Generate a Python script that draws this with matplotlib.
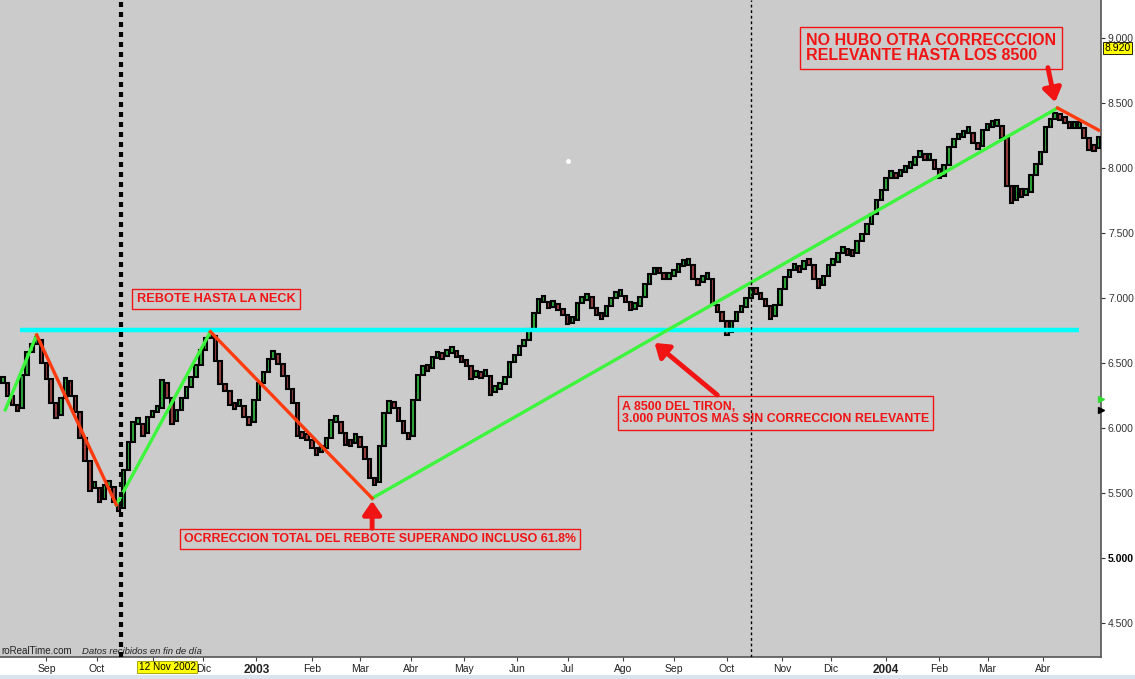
import numpy as np
import pandas as pd
import matplotlib
matplotlib.use("Agg")
import matplotlib.pyplot as plt
from matplotlib.ticker import FixedLocator, FuncFormatter

plt.rcParams['font.family'] = ['Liberation Sans', 'DejaVu Sans']

# daily sessions, one close read every 2 sessions
start_date = '2002-08-07'
n_days = 456
closes = [
    6370, 6270, 6200, 6155, 6410, 6585, 6645, 6700, 6525, 6400,
    6215, 6100, 6230, 6385, 6270, 6145, 5945, 5770, 5540, 5560,
    5455, 5560, 5570, 5455, 5385, 5675, 5890, 6045, 6055, 5960,
    6085, 6125, 6155, 6370, 6255, 6055, 6140, 6230, 6315, 6390,
    6485, 6600, 6690, 6730, 6540, 6360, 6310, 6200, 6170, 6190,
    6110, 6045, 6215, 6345, 6430, 6530, 6590, 6515, 6425, 6325,
    6215, 5960, 5945, 5930, 5870, 5815, 5845, 5925, 6060, 6070,
    5985, 5890, 5885, 5955, 5875, 5785, 5640, 5585, 5860, 6115,
    6210, 6175, 6075, 5985, 5940, 6215, 6410, 6475, 6460, 6545,
    6560, 6555, 6590, 6600, 6570, 6530, 6500, 6400, 6415, 6410,
    6425, 6275, 6300, 6340, 6390, 6510, 6560, 6630, 6675, 6760,
    6885, 6990, 6990, 6945, 6955, 6930, 6890, 6825, 6830, 6960,
    6985, 7030, 6945, 6890, 6860, 6940, 7000, 7030, 7040, 6990,
    6930, 6940, 7010, 7110, 7185, 7225, 7210, 7170, 7170, 7200,
    7260, 7270, 7275, 7170, 7120, 7155, 7170, 6970, 6910, 6845,
    6740, 6825, 6890, 6930, 7000, 7075, 7055, 7015, 6960, 6860,
    6945, 7070, 7160, 7215, 7260, 7225, 7285, 7275, 7170, 7100,
    7170, 7255, 7275, 7345, 7370, 7355, 7345, 7440, 7490, 7570,
    7645, 7755, 7830, 7925, 7975, 7940, 7970, 8010, 8020, 8085,
    8115, 8085, 8085, 8010, 7940, 8020, 8160, 8220, 8240, 8270,
    8290, 8215, 8170, 8290, 8315, 8345, 8345, 8255, 7885, 7755,
    7860, 7800, 7815, 7945, 8030, 8120, 8310, 8375, 8415, 8390,
    8370, 8330, 8330, 8330, 8255, 8160, 8150, 8240,
]

# trend lines drawn on the chart
green_legs = [
    (['2002-08-08', '2002-08-27'], [6140, 6715]),
    (['2002-10-11', '2002-12-05'], [5410, 6740]),
    (['2003-03-10', '2004-04-09'], [5460, 8460]),
]
red_legs = [
    (['2002-08-27', '2002-10-11'], [6715, 5410]),
    (['2002-12-05', '2003-03-10'], [6740, 5460]),
    (['2004-04-09', '2004-05-04'], [8460, 8290]),
]
neck_dates = ['2002-08-16', '2004-04-22']
neck_level = 6755
cursor_dates = ['2002-10-15', '2003-10-15']
cursor_label = '12 Nov 2002'

month_names = ['Ene', 'Feb', 'Mar', 'Abr', 'May', 'Jun', 'Jul', 'Ago',
               'Sep', 'Oct', 'Nov', 'Dic']
price_ticks = [4500, 5000, 5500, 6000, 6500, 7000, 7500, 8000, 8500, 9000]

days = pd.bdate_range(start_date, periods=n_days)


def pos(d):
    return int(np.searchsorted(days, pd.Timestamp(d)))


W, H = 1135, 679
fig = plt.figure(figsize=(W / 100, H / 100), dpi=100)
fig.patch.set_facecolor('white')
ax = fig.add_axes([0, 22 / H, 1101 / W, 1 - 22 / H])
ax.set_facecolor('#cbcbcb')

# candles: open = previous close
x = np.arange(len(closes)) * 2
c = np.array(closes, dtype=float)
o = np.r_[c[0], c[:-1]]
lo = np.minimum(o, c)
hi = np.maximum(o, c)
cols = np.where(c >= o, '#2fa83c', '#9a4040')
ax.bar(x, np.maximum(hi - lo, 45), bottom=np.minimum(lo, c - 22), width=1.45,
       color=cols, edgecolor='black', linewidth=1.5, zorder=3)

ax.plot([pos(d) for d in neck_dates], [neck_level] * 2, color='#00ffff',
        lw=3.2, solid_capstyle='butt', zorder=4)
for ds, vs in green_legs:
    ax.plot([pos(d) for d in ds], vs, color='#3cf53c', lw=2.4, zorder=5)
for ds, vs in red_legs:
    ax.plot([pos(d) for d in ds], vs, color='#ff3c10', lw=2.4, zorder=5)

ax.axvline(pos(cursor_dates[0]), color='black', lw=3, ls=(0, (1.2, 1.2)), zorder=6)
ax.axvline(pos(cursor_dates[1]), color='black', lw=1, ls=(0, (2, 2)), zorder=6)

ax.set_xlim(-1.2, 455)
ax.set_ylim(4240, 9290)

# month ticks (Nov 2002 sits under the yellow cursor date)
tick_pos, tick_lab, bold_idx = [], [], []
for m in pd.date_range('2002-09-01', '2004-04-01', freq='MS'):
    tick_pos.append(pos(m))
    if m.month == 1:
        bold_idx.append(len(tick_lab))
        tick_lab.append(str(m.year))
    elif m == pd.Timestamp('2002-11-01'):
        tick_lab.append('')
    else:
        tick_lab.append(month_names[m.month - 1])
ax.set_xticks(tick_pos)
ax.set_xticklabels(tick_lab, fontsize=7.5, color='#222222')
for i in bold_idx:
    ax.get_xticklabels()[i].set_fontweight('bold')
    ax.get_xticklabels()[i].set_fontsize(8.5)
ax.tick_params(axis='x', length=3, pad=2, color='#444444')

ax.yaxis.tick_right()
ax.yaxis.set_major_locator(FixedLocator(price_ticks))
ax.yaxis.set_major_formatter(FuncFormatter(lambda v, p: f"{v / 1000:.3f}"))
ax.tick_params(axis='y', length=3, pad=2, labelsize=7.5, colors='#333333')
for lab in ax.get_yticklabels():
    if lab.get_text() == '5.000':
        lab.set_fontweight('bold')
        lab.set_color('black')

for s in ['top', 'left']:
    ax.spines[s].set_visible(False)
for s in ['right', 'bottom']:
    ax.spines[s].set_color('#555555')
    ax.spines[s].set_linewidth(1.2)

# yellow labels
ax.text(pos('2002-11-11'), -0.0155, cursor_label, transform=ax.get_xaxis_transform(),
        ha='center', va='center', fontsize=7.2, zorder=10,
        bbox=dict(boxstyle='square,pad=0.12', fc='#ffff00', ec='#999900', lw=0.6))
ax.text(1.003, 8920, '8.920', transform=ax.get_yaxis_transform(), ha='left',
        va='center', fontsize=7.5, zorder=10,
        bbox=dict(boxstyle='square,pad=0.1', fc='#ffff00', ec='black', lw=0.6))
ax.plot([1.0], [6220], marker='>', color='#33dd33', ms=5,
        transform=ax.get_yaxis_transform(), clip_on=False, zorder=10)
ax.plot([1.0], [6140], marker='>', color='black', ms=5,
        transform=ax.get_yaxis_transform(), clip_on=False, zorder=10)

# annotation boxes
red = '#f01414'
box = dict(boxstyle='square,pad=0.35', fc='none', ec=red, lw=1)


def ftext(px, py, s, **kw):
    fig.text(px / W, 1 - py / H, s, color=red, fontweight='bold', bbox=box, **kw)


ftext(216, 299, 'REBOTE HASTA LA NECK', fontsize=9.2, ha='center', va='center')
ftext(622, 413, 'A 8500 DEL TIRON,\n3.000 PUNTOS MAS SIN CORRECCION RELEVANTE',
      fontsize=8.9, ha='left', va='center', linespacing=1.05)
ftext(380, 539, 'OCRRECCION TOTAL DEL REBOTE SUPERANDO INCLUSO 61.8%',
      fontsize=8.9, ha='center', va='center')
ftext(806, 48, 'NO HUBO OTRA CORRECCCION\nRELEVANTE HASTA LOS 8500',
      fontsize=11.5, ha='left', va='center', linespacing=1.0)

arrow = dict(arrowstyle='-|>,head_length=0.8,head_width=0.55', color=red, lw=3.5,
             shrinkA=0, shrinkB=0)
ax.annotate('', xy=(pos('2003-03-10'), 5440), xytext=(pos('2003-03-10'), 5230),
            arrowprops=arrow, zorder=8)
ax.annotate('', xy=(pos('2003-08-20'), 6654), xytext=(pos('2003-09-25'), 6254),
            arrowprops=arrow, zorder=8)
ax.annotate('', xy=(pos('2004-04-08'), 8505), xytext=(pos('2004-04-05'), 8770),
            arrowprops=arrow, zorder=8)

ax.plot([pos('2003-07-01')], [8050], 'o', color='white', ms=2.5, zorder=4)

foot_y = 6 / 657
ax.text(0.001, foot_y, 'roRealTime.com', transform=ax.transAxes, fontsize=7,
        color='#222222', va='center')
ax.text(82 / 1101, foot_y, 'Datos recibidos en fin de día', transform=ax.transAxes,
        fontsize=6.8, style='italic', color='#222222', va='center')

fig.patches.append(plt.Rectangle((0, 0), 1, 4 / H, transform=fig.transFigure,
                                 fc='#d9e4ee', ec='none'))

fig.savefig('out.png', dpi=100)
